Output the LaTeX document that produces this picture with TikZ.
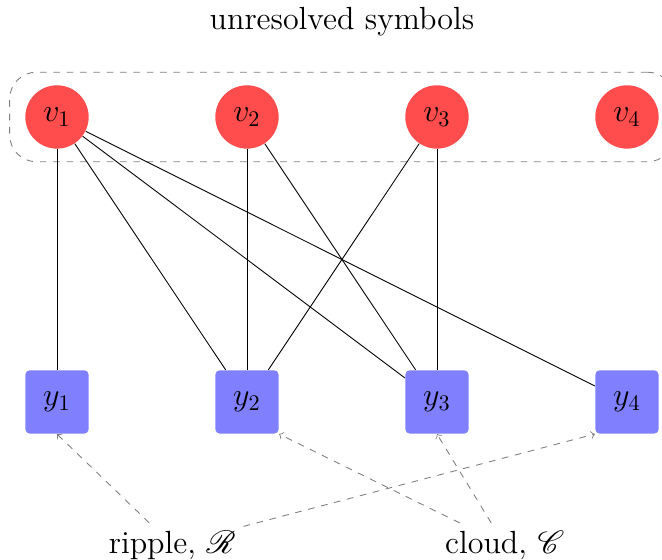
\documentclass[tikz,border=0pt]{standalone}
\usepackage{mathrsfs}
\usetikzlibrary{fit}
\begin{document}
\begin{tikzpicture}[
  vnode/.style={circle, fill=red!70, minimum size=1cm, inner sep=0pt, font=\Large},
  ynode/.style={rectangle, rounded corners=2pt, fill=blue!50, minimum size=1cm, inner sep=0pt, font=\Large},
  lbl/.style={font=\Large},
  link/.style={black},
  hint/.style={->, gray, dashed},
  group/.style={draw=gray, dashed, rounded corners=12pt, inner xsep=0.24cm, inner ysep=0.2cm}
]
\useasboundingbox (-0.9,-6.995) rectangle (9.553,1.847);
\node[lbl] (title) at (4.5,1.5) {unresolved symbols};
\node[vnode] (v1) at (0,0) {$v_1$};
\node[vnode] (v2) at (3,0) {$v_2$};
\node[vnode] (v3) at (6,0) {$v_3$};
\node[vnode] (v4) at (9,0) {$v_4$};
\node[ynode] (y1) at (0,-4.5) {$y_1$};
\node[ynode] (y2) at (3,-4.5) {$y_2$};
\node[ynode] (y3) at (6,-4.5) {$y_3$};
\node[ynode] (y4) at (9,-4.5) {$y_4$};
\node[group, fit=(v1)(v4)] (grp) {};
\draw[link] (v1) -- (y1);
\draw[link] (v1) -- (y2);
\draw[link] (v1) -- (y3);
\draw[link] (v1) -- (y4);
\draw[link] (v2) -- (y2);
\draw[link] (v2) -- (y3);
\draw[link] (v3) -- (y2);
\draw[link] (v3) -- (y3);
\node[lbl] (ripple) at (1.82,-6.76) {ripple, $\mathscr{R}$};
\node[lbl] (cloud) at (7.07,-6.76) {cloud, $\mathscr{C}$};
\draw[hint] (ripple) -- (y1.south);
\draw[hint] (ripple) -- (y4.south west);
\draw[hint] (cloud) -- (y2.south east);
\draw[hint] (cloud) -- (y3.south);
\end{tikzpicture}
\end{document}
